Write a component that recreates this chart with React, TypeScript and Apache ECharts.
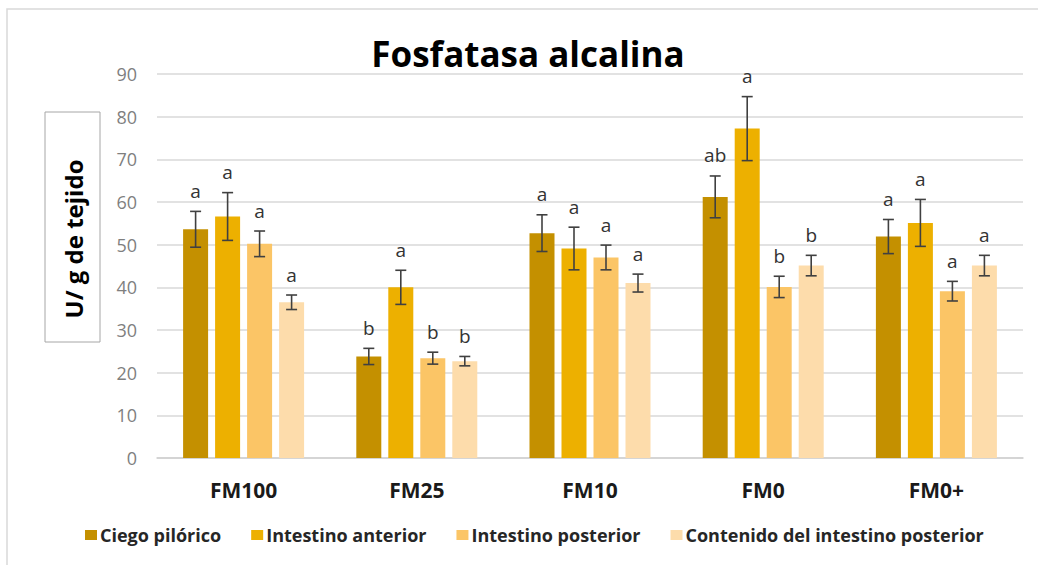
import React, { useEffect, useRef } from "react";
import * as echarts from "echarts";

// Categories (diets) and series values, U/ g de tejido
const categories = ["FM100", "FM25", "FM10", "FM0", "FM0+"];
const seriesNames = [
  "Ciego pilórico",
  "Intestino anterior",
  "Intestino posterior",
  "Contenido del intestino posterior",
];
const ciego = [53.6, 23.8, 52.7, 61.2, 51.9];
const anterior = [56.6, 40.0, 49.1, 77.2, 55.1];
const posterior = [50.2, 23.4, 47.0, 40.1, 39.1];
const contenido = [36.5, 22.7, 41.0, 45.1, 45.1];

// Standard error for each bar
const ciegoErr = [4.2, 1.9, 4.3, 4.9, 4.0];
const anteriorErr = [5.6, 4.0, 5.0, 7.5, 5.5];
const posteriorErr = [3.0, 1.4, 2.9, 2.5, 2.3];
const contenidoErr = [1.7, 1.1, 2.1, 2.4, 2.4];

// Significance letters
const ciegoLetters = ["a", "b", "a", "ab", "a"];
const anteriorLetters = ["a", "a", "a", "a", "a"];
const posteriorLetters = ["a", "b", "a", "b", "a"];
const contenidoLetters = ["a", "b", "a", "b", "a"];

const yTicks = [0, 10, 20, 30, 40, 50, 60, 70, 80, 90];

const colors = ["#C49000", "#EDB000", "#FBC566", "#FDDCAB"];
const FONT = "'Open Sans', 'Noto Sans', sans-serif";
const BAR_W = 25;
const BAR_GAP = 7;

export default function App() {
  const ref = useRef<HTMLDivElement>(null);

  useEffect(() => {
    if (!ref.current) return;
    const chart = echarts.init(ref.current, undefined, { renderer: "svg" });

    const values = [ciego, anterior, posterior, contenido];
    const errors = [ciegoErr, anteriorErr, posteriorErr, contenidoErr];
    const letters = [ciegoLetters, anteriorLetters, posteriorLetters, contenidoLetters];
    const n = values.length;
    const groupW = n * BAR_W + (n - 1) * BAR_GAP;

    const barSeries = values.map((vals, i) => ({
      type: "bar",
      name: seriesNames[i],
      data: vals,
      barWidth: BAR_W,
      barGap: `${(BAR_GAP / BAR_W) * 100}%`,
      itemStyle: { color: colors[i] },
      z: 2,
    }));

    // Error bars with the significance letter above each one
    const errSeries = values.map((vals, i) => ({
      type: "custom",
      name: `err-${i}`,
      z: 5,
      silent: true,
      data: vals.map((v, k) => [k, v, errors[i][k]]),
      renderItem: (params: any, api: any) => {
        const idx = api.value(0);
        const v = api.value(1);
        const e = api.value(2);
        const letter = letters[i][idx];
        const base = api.coord([idx, v]);
        const cx = base[0] - groupW / 2 + BAR_W / 2 + i * (BAR_W + BAR_GAP);
        const top = api.coord([idx, v + e])[1];
        const bot = api.coord([idx, v - e])[1];
        const cap = 5.5;
        const stroke = { stroke: "#404040", lineWidth: 1.6 };
        return {
          type: "group",
          children: [
            { type: "line", shape: { x1: cx, y1: top, x2: cx, y2: bot }, style: stroke },
            { type: "line", shape: { x1: cx - cap, y1: top, x2: cx + cap, y2: top }, style: stroke },
            { type: "line", shape: { x1: cx - cap, y1: bot, x2: cx + cap, y2: bot }, style: stroke },
            {
              type: "text",
              x: cx,
              y: top - 11,
              style: {
                text: letter,
                fill: "#333333",
                font: `19px ${FONT}`,
                align: "center",
                verticalAlign: "bottom",
              },
            },
          ],
        };
      },
    }));

    chart.setOption({
      animation: false,
      backgroundColor: "#ffffff",
      title: {
        text: "Fosfatasa alcalina",
        left: 523,
        top: 31,
        textAlign: "center",
        textStyle: {
          fontFamily: FONT,
          fontWeight: "bold",
          fontSize: 35,
          color: "#000000",
        },
      },
      legend: {
        data: seriesNames,
        left: 85,
        top: 526,
        padding: 0,
        itemWidth: 12,
        itemHeight: 10,
        itemGap: 30,
        icon: "rect",
        textStyle: {
          fontFamily: FONT,
          fontWeight: "bold",
          fontSize: 18,
          color: "#262626",
          padding: [0, 0, 0, -2],
        },
      },
      grid: { left: 157, right: 15, top: 74, bottom: 107 },
      xAxis: {
        type: "category",
        data: categories,
        axisTick: { show: false },
        axisLine: { lineStyle: { color: "#d0d0d0", width: 1.5 } },
        axisLabel: {
          margin: 21,
          fontFamily: FONT,
          fontWeight: "bold",
          fontSize: 21,
          color: "#1a1a1a",
        },
      },
      yAxis: {
        type: "value",
        min: yTicks[0],
        max: yTicks[yTicks.length - 1],
        interval: 10,
        axisLine: { show: false },
        axisTick: { show: false },
        splitLine: { lineStyle: { color: "#d9d9d9", width: 1.5 } },
        axisLabel: {
          margin: 20,
          fontFamily: FONT,
          fontSize: 18,
          color: "#7f7f7f",
        },
      },
      graphic: [
        {
          type: "rect",
          shape: { x: 7, y: 9, width: 1100, height: 700 },
          style: { fill: "none", stroke: "#d9d9d9", lineWidth: 1.5 },
          silent: true,
        },
        {
          type: "rect",
          shape: { x: 45, y: 112, width: 55, height: 230 },
          style: { fill: "#ffffff", stroke: "#a6a6a6", lineWidth: 1 },
        },
        {
          type: "text",
          x: 73,
          y: 239,
          rotation: Math.PI / 2,
          style: {
            text: "U/ g de tejido",
            font: `bold 24px ${FONT}`,
            fill: "#000000",
            align: "center",
            verticalAlign: "middle",
          },
        },
      ],
      series: [...barSeries, ...errSeries],
    });

    return () => chart.dispose();
  }, []);

  return (
    <div
      ref={ref}
      style={{ position: "fixed", left: 0, top: 0, width: 1038, height: 565 }}
    />
  );
}
